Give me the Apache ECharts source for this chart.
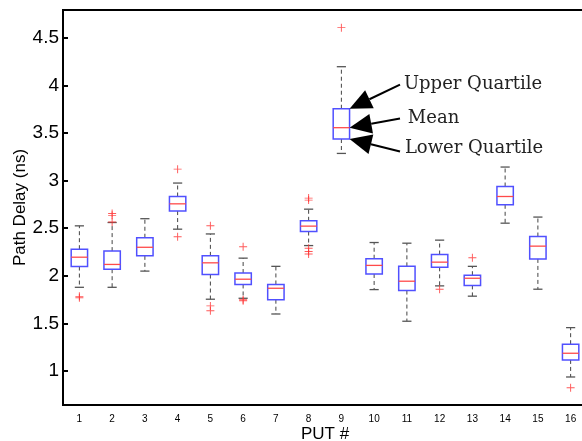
<!DOCTYPE html>
<html>
<head>
<meta charset="utf-8">
<script src="https://cdn.jsdelivr.net/npm/echarts@6/dist/echarts.min.js"></script>
<style>
  html, body { margin: 0; padding: 0; background: #fff; }
  #chart { width: 582px; height: 441px; }
</style>
</head>
<body>
<div id="chart"></div>
<script>
// PUT numbers and box statistics (ns)
const puts = [1, 2, 3, 4, 5, 6, 7, 8, 9, 10, 11, 12, 13, 14, 15, 16];
const whiskerHigh = [2.525, 2.56, 2.60, 2.974, 2.44, 2.186, 2.10, 2.70, 4.195, 2.35, 2.343, 2.375, 2.10, 3.142, 2.617, 1.457];
const upperQuartile = [2.28, 2.26, 2.40, 2.833, 2.21, 2.03, 1.91, 2.578, 3.754, 2.18, 2.10, 2.224, 2.007, 2.938, 2.413, 1.283];
const medians = [2.196, 2.12, 2.30, 2.756, 2.137, 1.965, 1.87, 2.522, 3.555, 2.11, 1.944, 2.144, 1.975, 2.833, 2.312, 1.188];
const lowerQuartile = [2.098, 2.07, 2.21, 2.68, 2.014, 1.91, 1.75, 2.465, 3.436, 2.02, 1.846, 2.09, 1.90, 2.746, 2.178, 1.118];
const whiskerLow = [1.88, 1.88, 2.05, 2.49, 1.755, 1.765, 1.60, 2.318, 3.285, 1.856, 1.524, 1.895, 1.787, 2.553, 1.86, 0.939];

// outliers as [put, value]
const outliers = [
  [1, 1.785], [1, 1.77],
  [2, 2.655], [2, 2.635], [2, 2.565],
  [4, 3.12], [4, 2.41],
  [5, 2.525], [5, 1.685], [5, 1.635],
  [6, 2.305], [6, 1.75], [6, 1.74],
  [8, 2.816], [8, 2.795], [8, 2.29], [8, 2.255], [8, 2.23],
  [9, 4.605],
  [12, 1.86],
  [13, 2.19],
  [16, 0.827]
];

const yTicks = [1, 1.5, 2, 2.5, 3, 3.5, 4, 4.5];

// annotation of PUT 9: label, tail of arrow (data coords), text anchor (data coords)
const noteLabels = ['Upper Quartile', 'Mean', 'Lower Quartile'];
const noteTipY = [upperQuartile[8], medians[8], lowerQuartile[8]];
const noteTail = [[10.79, 4.006], [10.79, 3.652], [10.79, 3.306]];
const noteText = [[10.91, 4.006], [11.03, 3.65], [10.94, 3.335]];

const chart = echarts.init(document.getElementById('chart'));

const boxData = puts.map((p, i) => [p, whiskerLow[i], lowerQuartile[i], medians[i], upperQuartile[i], whiskerHigh[i]]);
const noteData = noteLabels.map((t, i) => [9.25, noteTipY[i], noteTail[i][0], noteTail[i][1], noteText[i][0], noteText[i][1]]);

function renderBox(params, api) {
  const x = api.value(0);
  const lo = api.coord([x, api.value(1)]);
  const q1 = api.coord([x, api.value(2)]);
  const md = api.coord([x, api.value(3)]);
  const q3 = api.coord([x, api.value(4)]);
  const hi = api.coord([x, api.value(5)]);
  const bw = api.size([0.5, 0])[0];
  const cw = api.size([0.28, 0])[0];
  const cx = q1[0];
  const whisk = { stroke: '#444', lineWidth: 1, lineDash: [4, 3] };
  const cap = { stroke: '#555', lineWidth: 1.3 };
  return {
    type: 'group',
    children: [
      { type: 'line', shape: { x1: cx, y1: q3[1], x2: cx, y2: hi[1] }, style: whisk },
      { type: 'line', shape: { x1: cx, y1: q1[1], x2: cx, y2: lo[1] }, style: whisk },
      { type: 'line', shape: { x1: cx - cw / 2, y1: hi[1], x2: cx + cw / 2, y2: hi[1] }, style: cap },
      { type: 'line', shape: { x1: cx - cw / 2, y1: lo[1], x2: cx + cw / 2, y2: lo[1] }, style: cap },
      { type: 'rect', shape: { x: cx - bw / 2, y: q3[1], width: bw, height: q1[1] - q3[1] },
        style: { fill: null, stroke: '#5050ff', lineWidth: 1.5 } },
      { type: 'line', shape: { x1: cx - bw / 2, y1: md[1], x2: cx + bw / 2, y2: md[1] },
        style: { stroke: '#ff4a4a', lineWidth: 1.3 } }
    ]
  };
}

function renderNote(params, api) {
  const tip = api.coord([api.value(0), api.value(1)]);
  const tail = api.coord([api.value(2), api.value(3)]);
  const txt = api.coord([api.value(4), api.value(5)]);
  const dx = tail[0] - tip[0], dy = tail[1] - tip[1];
  const len = Math.sqrt(dx * dx + dy * dy);
  const ux = dx / len, uy = dy / len;
  const hl = 22, hw = 10;
  const bx = tip[0] + ux * hl, by = tip[1] + uy * hl;
  return {
    type: 'group',
    children: [
      { type: 'line', shape: { x1: bx, y1: by, x2: tail[0], y2: tail[1] },
        style: { stroke: '#000', lineWidth: 2 } },
      { type: 'polygon', shape: { points: [tip, [bx - uy * hw, by + ux * hw], [bx + uy * hw, by - ux * hw]] },
        style: { fill: '#000' } },
      { type: 'text', x: txt[0], y: txt[1],
        style: { text: noteLabels[params.dataIndex], fill: '#222', font: '18px "DejaVu Serif"',
          textAlign: 'left', textVerticalAlign: 'middle' } }
    ]
  };
}

const option = {
  animation: false,
  grid: {
    left: 63,
    top: 10,
    width: 524,
    height: 395,
    outerBoundsMode: 'none',
    containLabel: false,
    show: true,
    borderColor: '#000',
    borderWidth: 2
  },
  xAxis: {
    type: 'value',
    min: 0.5,
    max: 16.5,
    name: 'PUT #',
    nameLocation: 'middle',
    nameGap: 21,
    nameMoveOverlap: false,
    nameTextStyle: { fontFamily: 'Liberation Sans', fontSize: 17, color: '#000' },
    axisLine: { lineStyle: { color: '#000', width: 2 } },
    axisTick: { show: false },
    splitLine: { show: false },
    axisLabel: {
      customValues: puts,
      fontFamily: 'Liberation Sans',
      fontSize: 10,
      color: '#000',
      margin: 9
    }
  },
  yAxis: [
    {
      type: 'value',
      min: 0.645,
      max: 4.79,
      name: 'Path Delay (ns)',
      nameLocation: 'middle',
      nameGap: 34,
      nameMoveOverlap: false,
      nameTextStyle: { fontFamily: 'Liberation Sans', fontSize: 17, color: '#000' },
      axisLine: { show: true, lineStyle: { color: '#000', width: 2 } },
      axisTick: { show: true, inside: true, length: 5, customValues: yTicks, lineStyle: { color: '#000', width: 2 } },
      splitLine: { show: false },
      axisLabel: {
        customValues: yTicks,
        fontFamily: 'Liberation Sans',
        fontSize: 19,
        color: '#000',
        margin: 4
      }
    },
    {
      type: 'value',
      position: 'right',
      min: 0.645,
      max: 4.79,
      axisLine: { show: true, lineStyle: { color: '#000', width: 2 } },
      axisTick: { show: true, inside: true, length: 5, customValues: yTicks, lineStyle: { color: '#000', width: 2 } },
      splitLine: { show: false },
      axisLabel: { show: false }
    }
  ],
  series: [
    {
      type: 'custom',
      renderItem: renderBox,
      data: boxData,
      clip: false
    },
    {
      type: 'scatter',
      data: outliers,
      symbol: 'path://M4.4,0H5.6V10H4.4ZM0,4.4H10V5.6H0Z',
      symbolSize: 8,
      itemStyle: { color: '#ff3030' }
    },
    {
      type: 'custom',
      renderItem: renderNote,
      data: noteData,
      clip: false
    }
  ]
};

chart.setOption(option);
window.onresize = () => chart.resize();
</script>
</body>
</html>
